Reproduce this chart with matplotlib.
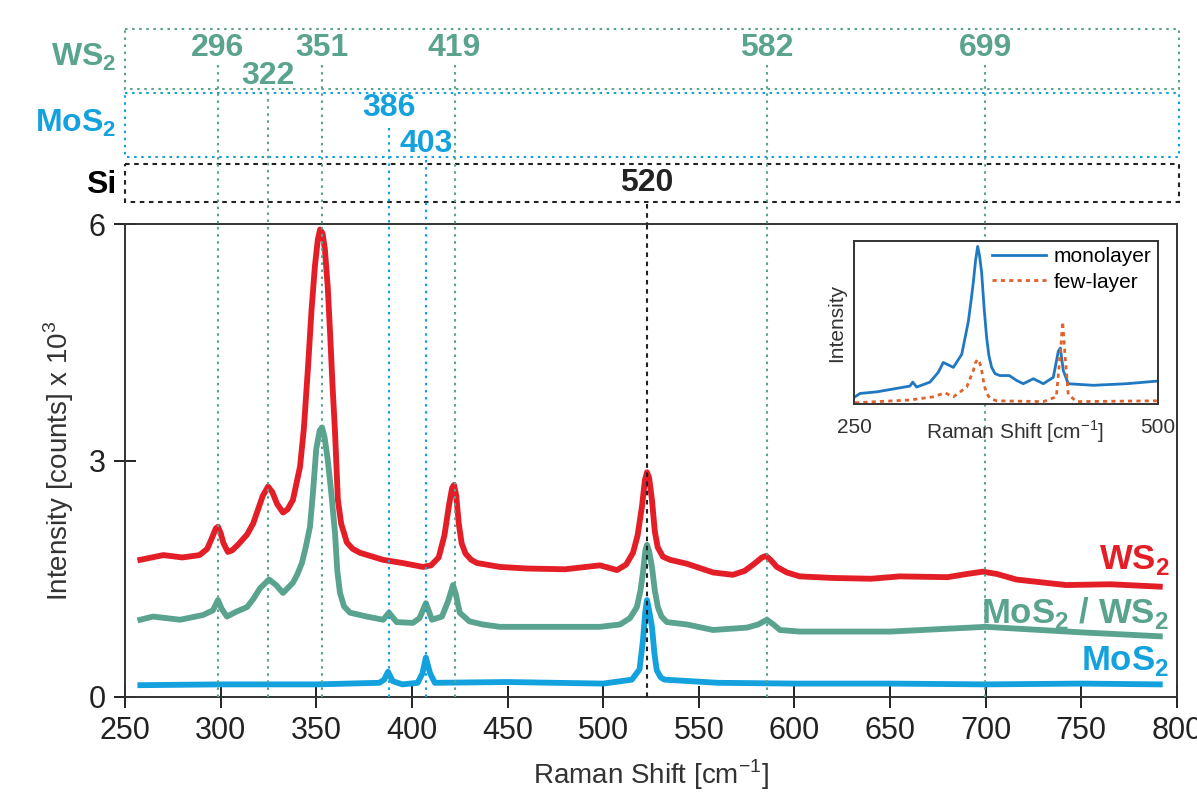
import numpy as np
import matplotlib.pyplot as plt
from matplotlib.patches import Rectangle

plt.rcParams['font.family'] = ['Liberation Sans', 'DejaVu Sans']

# colours
RED = '#e31e26'
TEAL = '#5aa38f'
BLUE = '#13a2de'
DARK = '#222222'

# --- main spectra (Raman shift, intensity x 10^3) ---
ws2_x = [258, 270, 280, 289, 293, 295.5, 297.5, 298.6, 300, 301.5, 303.8, 306, 309, 313.8, 317,
         319, 322, 324.8, 327, 329.5, 332.6, 335, 337.8, 341.5, 343.5, 345.7, 347.5, 349.3, 350.8,
         352, 353.3, 354.5, 356, 357.2, 358.5, 359.8, 361.3, 363, 366, 369, 372.8, 384.9, 395,
         405.8, 410, 414, 417, 419.5, 421, 422, 423.2, 424.5, 426, 428, 431, 434, 446, 460, 480,
         498.3, 507.2, 512, 515.6, 518, 520.3, 521.8, 522.9, 524, 525.5, 527, 528.5, 531.2, 535,
         543.8, 557.4, 567.8, 574, 579, 583, 585.1, 587.5, 590.8, 596, 602.8, 620, 640, 655, 680,
         690, 698.5, 706, 716, 742, 765, 791]
ws2_y = [1.74, 1.80, 1.77, 1.80, 1.88, 2.02, 2.14, 2.16, 2.08, 1.95, 1.84, 1.86, 1.93, 2.06, 2.20,
         2.34, 2.55, 2.67, 2.60, 2.45, 2.34, 2.38, 2.50, 2.92, 3.40, 4.19, 4.90, 5.47, 5.80,
         5.93, 5.88, 5.68, 5.20, 4.63, 3.95, 3.36, 2.50, 2.20, 1.96, 1.88, 1.83, 1.74, 1.70,
         1.65, 1.67, 1.77, 2.05, 2.45, 2.65, 2.69, 2.55, 2.20, 1.95, 1.82, 1.74, 1.70, 1.65, 1.63, 1.62,
         1.67, 1.61, 1.68, 1.83, 2.05, 2.42, 2.75, 2.85, 2.78, 2.50, 2.10, 1.90, 1.78, 1.74,
         1.69, 1.58, 1.55, 1.60, 1.69, 1.77, 1.79, 1.74, 1.65, 1.58, 1.53, 1.51, 1.50, 1.53, 1.52,
         1.56, 1.59, 1.56, 1.49, 1.42, 1.43, 1.40]

het_x = [258, 264.6, 278.8, 290.8, 296, 298.6, 300.5, 303.3, 308, 313.8, 317, 320.6, 325.3, 329,
         332.6, 335, 337.8, 340, 342.5, 344.5, 346.7, 348.3, 350, 351.8, 353, 354.3, 356, 357.8,
         359.8, 361, 362.4, 364.5, 367.6, 376.5, 385, 388, 392, 400.5, 404, 407.3, 410.5, 415.7,
         419, 421.5, 423, 425, 430, 437, 446, 470, 498.3, 508.8, 514, 517.6, 519.5, 520.8, 522,
         522.9, 524, 525.5, 527, 528.6, 530.5, 533.3, 543.8, 557.4, 575.1, 581, 585.6, 589, 592.4,
         602.8, 650, 700, 750, 791]
het_y = [0.98, 1.02, 0.98, 1.04, 1.10, 1.23, 1.12, 1.02, 1.08, 1.14, 1.24, 1.38, 1.49, 1.42,
         1.32, 1.38, 1.45, 1.55, 1.70, 1.90, 2.16, 2.60, 3.15, 3.38, 3.42, 3.30, 3.01, 2.60,
         2.08, 1.60, 1.32, 1.15, 1.07, 1.02, 0.98, 1.07, 0.95, 0.94, 1.00, 1.19, 0.98, 1.02,
         1.22, 1.42, 1.30, 1.07, 0.96, 0.92, 0.89, 0.89, 0.89, 0.92, 1.00, 1.14, 1.35, 1.58, 1.85,
         1.93, 1.85, 1.65, 1.35, 1.14, 1.02, 0.95, 0.92, 0.85, 0.88, 0.92, 0.98, 0.92, 0.85,
         0.83, 0.83, 0.89, 0.82, 0.77]

mos2_x = [258, 300, 350, 383, 385.5, 387.5, 390, 395, 403, 405.5, 407.3, 409.5, 412, 450, 500,
          515, 519, 520.8, 522, 522.9, 524, 525.5, 526.8, 528, 530, 532, 560, 600, 650, 700, 750, 791]
mos2_y = [0.15, 0.16, 0.16, 0.18, 0.22, 0.32, 0.20, 0.16, 0.18, 0.30, 0.50, 0.30, 0.18, 0.19, 0.17,
          0.22, 0.35, 0.72, 1.08, 1.23, 1.10, 0.89, 0.55, 0.34, 0.25, 0.22, 0.18, 0.17, 0.17, 0.16, 0.17, 0.16]

# --- peak markers: label text and where the line sits on the plotted axis ---
ws2_labels = ['296', '322', '351', '419', '582', '699']
ws2_lines = [298.6, 324.8, 353, 422.3, 585.6, 699.8]
mos2_labels = ['386', '403']
mos2_lines = [388, 407.5]
si_labels = ['520']
si_lines = [523]

# --- inset spectra (normalised) ---
mono_x = [250.8, 255, 268.7, 296, 298.3, 301.5, 312.5, 319.3, 323.4, 327.5, 331.7, 338.6, 344,
          346.5, 348.1, 350, 351.7, 353.2, 355, 357, 359.1, 361, 363.2, 366, 370, 377.7, 383.8,
          389.2, 397.5, 405.7, 413.9, 418, 419.7, 422.1, 426.2, 446.8, 474.3, 498.9]
mono_y = [0.045, 0.066, 0.076, 0.112, 0.137, 0.106, 0.137, 0.198, 0.26, 0.245, 0.229, 0.311, 0.515,
          0.66, 0.76, 0.90, 0.986, 0.93, 0.82, 0.60, 0.413, 0.30, 0.229, 0.19, 0.178, 0.178, 0.147,
          0.127, 0.158, 0.127, 0.167, 0.33, 0.35, 0.209, 0.127, 0.117, 0.127, 0.143]
few_x = [250.8, 296, 315.2, 324.8, 331.7, 342.7, 348.1, 350, 351.7, 353.3, 355, 357, 359.1, 362,
         367.3, 405.7, 416.4, 420, 421.6, 423.5, 426.2, 433, 499]
few_y = [0.008, 0.025, 0.045, 0.07, 0.045, 0.106, 0.209, 0.26, 0.28, 0.26, 0.209, 0.12, 0.065, 0.035,
         0.02, 0.015, 0.045, 0.35, 0.515, 0.31, 0.06, 0.015, 0.02]

W, H = 1197, 792
fig = plt.figure(figsize=(W / 100, H / 100), dpi=100)

def fx(px):
    return px / W

def fy(py):
    return 1 - py / H

# main axes
ax = fig.add_axes([fx(125), fy(697), fx(1177) - fx(125), fy(224) - fy(697)])
ax.plot(ws2_x, ws2_y, color=RED, lw=4.2, solid_joinstyle='round', zorder=3)
ax.plot(het_x, het_y, color=TEAL, lw=4.2, solid_joinstyle='round', zorder=3)
ax.plot(mos2_x, mos2_y, color=BLUE, lw=4.2, solid_joinstyle='round', zorder=3)
ax.set_xlim(250, 800)
ax.set_ylim(0, 6)
ax.set_xticks(np.arange(250, 801, 50))
ax.set_yticks([0, 3, 6])
ax.tick_params(direction='inout', length=16, width=1.4, labelsize=22, colors=DARK, pad=6)
for s in ax.spines.values():
    s.set_linewidth(1.4)
    s.set_color('#333333')
ax.set_xlabel('Raman Shift [cm$^{\\mathregular{-1}}$]', fontsize=20, color='#333333', labelpad=8)
ax.set_ylabel('Intensity [counts] x 10$^{\\mathregular{3}}$', fontsize=20, color='#333333', labelpad=9)

dots = (0, (1.2, 2.2))
dash = (0, (2.2, 2.2))
for xv in ws2_lines:
    ax.axvline(xv, color=TEAL, lw=1.5, ls=dots, zorder=4)
for xv in mos2_lines:
    ax.axvline(xv, color=BLUE, lw=1.5, ls=dots, zorder=4)
for xv in si_lines:
    ax.axvline(xv, color=DARK, lw=1.5, ls=dash, zorder=4)

bold = dict(family=['Liberation Sans Narrow', 'Liberation Sans'], fontweight='bold')
ax.text(796, 1.63, 'WS$_\\mathregular{2}$', color=RED, fontsize=25, ha='right', va='baseline', **bold)
ax.text(796, 0.94, 'MoS$_\\mathregular{2}$ / WS$_\\mathregular{2}$', color=TEAL, fontsize=25,
        ha='right', va='baseline', **bold)
ax.text(796, 0.34, 'MoS$_\\mathregular{2}$', color=BLUE, fontsize=25, ha='right', va='baseline', **bold)

# top panel: y in pixel units (inverted)
top = fig.add_axes([fx(125), fy(224), fx(1177) - fx(125), fy(25) - fy(224)])
top.set_xlim(250, 800)
top.set_ylim(224, 25)
top.axis('off')

for y0, y1, col, ls in [(29, 89, TEAL, dots), (93, 157, BLUE, dots), (164, 202, DARK, dash)]:
    top.add_patch(Rectangle((250, y0), 551, y1 - y0, fill=False, ec=col, lw=1.5, ls=ls,
                            clip_on=False))

ws2_ly = [48, 76, 48, 48, 48, 48]
for lab, xv, ly in zip(ws2_labels, ws2_lines, ws2_ly):
    top.text(xv, ly, lab, color=TEAL, fontsize=23, ha='center', va='center', **bold)
    top.plot([xv, xv], [ly + 17 if lab != '322' else 92, 224], color=TEAL, lw=1.5, ls=dots)
mos2_ly = [108, 144]
for lab, xv, ly in zip(mos2_labels, mos2_lines, mos2_ly):
    top.text(xv, ly, lab, color=BLUE, fontsize=23, ha='center', va='center', **bold)
    top.plot([xv, xv], [ly + 20 if lab == '386' else 160, 224], color=BLUE, lw=1.5, ls=dots)
for lab, xv in zip(si_labels, si_lines):
    top.text(xv, 183, lab, color=DARK, fontsize=23, ha='center', va='center', **bold)
    top.plot([xv, xv], [204, 224], color=DARK, lw=1.5, ls=dash)

top.text(245.5, 57, 'WS$_\\mathregular{2}$', color=TEAL, fontsize=23, ha='right', va='center', **bold)
top.text(245.5, 123, 'MoS$_\\mathregular{2}$', color=BLUE, fontsize=23, ha='right', va='center', **bold)
top.text(245.5, 185, 'Si', color='black', fontsize=23, ha='right', va='center', **bold)

# inset
ins = fig.add_axes([fx(854), fy(404), fx(1158) - fx(854), fy(241) - fy(404)], zorder=5)
ins.set_facecolor('white')
ins.plot(mono_x, mono_y, color='#1f78c1', lw=2, label='monolayer')
ins.plot(few_x, few_y, color='#e0622c', lw=2, ls=(0, (1.5, 1.5)), label='few-layer')
ins.set_xlim(250, 500)
ins.set_ylim(0, 1.02)
ins.set_xticks([250, 500])
ins.set_yticks([])
ins.tick_params(length=0, labelsize=15, colors='#333333', pad=10)
for s in ins.spines.values():
    s.set_linewidth(1.4)
    s.set_color('#333333')
ins.set_xlabel('Raman Shift [cm$^{\\mathregular{-1}}$]', fontsize=15, color='#333333')
ins.xaxis.set_label_coords(0.53, -0.09)
ins.set_ylabel('Intensity', fontsize=15, color='#333333', labelpad=6)
ins.legend(loc='upper right', frameon=False, fontsize=15, handlelength=2.6, borderaxespad=0.1,
           handletextpad=0.4, labelspacing=0.3, borderpad=0.2)

fig.savefig('out.png', dpi=100)
